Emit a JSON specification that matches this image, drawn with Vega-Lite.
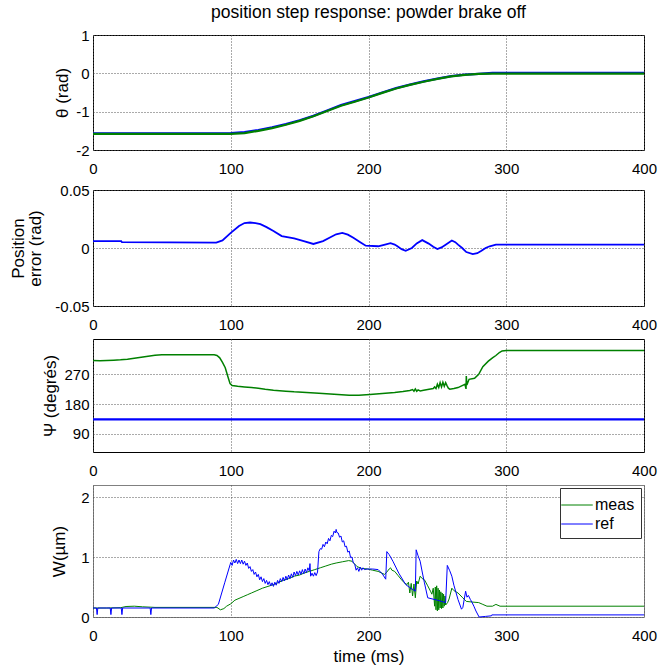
{
  "$schema": "https://vega.github.io/schema/vega-lite/v6.json",
  "background": "white",
  "padding": {"left": 9, "top": 3, "right": 5, "bottom": 0},
  "resolve": {"scale": {"color": "independent"}, "legend": {"color": "independent"}},
  "config": {
    "font": "Liberation Sans",
    "view": {"stroke": "black", "strokeWidth": 1},
    "axis": {"labelFont": "Liberation Sans", "labelFontSize": 15, "labelColor": "black", "titleFont": "Liberation Sans", "titleFontSize": 17, "titleFontWeight": "normal", "titleColor": "black", "titleLineHeight": 17, "domain": false, "ticks": false, "grid": true, "gridColor": "#555555", "gridDash": [1, 2], "gridWidth": 1, "labelOverlap": false, "labelFlush": false, "labelPadding": 4},
    "axisX": {"labelPadding": 11},
    "concat": {"spacing": 5}
  },
  "datasets": {
    "theta": [{"t":0,"v":-1.565,"s":"ref"},{"t":90,"v":-1.565,"s":"ref"},{"t":100,"v":-1.56,"s":"ref"},{"t":110,"v":-1.535,"s":"ref"},{"t":120,"v":-1.48,"s":"ref"},{"t":130,"v":-1.41,"s":"ref"},{"t":140,"v":-1.325,"s":"ref"},{"t":150,"v":-1.225,"s":"ref"},{"t":160,"v":-1.11,"s":"ref"},{"t":170,"v":-0.97,"s":"ref"},{"t":180,"v":-0.83,"s":"ref"},{"t":190,"v":-0.725,"s":"ref"},{"t":200,"v":-0.62,"s":"ref"},{"t":210,"v":-0.5,"s":"ref"},{"t":220,"v":-0.385,"s":"ref"},{"t":230,"v":-0.295,"s":"ref"},{"t":240,"v":-0.21,"s":"ref"},{"t":250,"v":-0.14,"s":"ref"},{"t":260,"v":-0.075,"s":"ref"},{"t":270,"v":-0.035,"s":"ref"},{"t":280,"v":-0.012,"s":"ref"},{"t":290,"v":0.01,"s":"ref"},{"t":300,"v":0.015,"s":"ref"},{"t":400,"v":0.015,"s":"ref"},
      {"t":0,"v":-1.58,"s":"meas"},{"t":100,"v":-1.58,"s":"meas"},{"t":110,"v":-1.56,"s":"meas"},{"t":120,"v":-1.5,"s":"meas"},{"t":130,"v":-1.43,"s":"meas"},{"t":140,"v":-1.34,"s":"meas"},{"t":150,"v":-1.24,"s":"meas"},{"t":160,"v":-1.12,"s":"meas"},{"t":170,"v":-0.98,"s":"meas"},{"t":180,"v":-0.845,"s":"meas"},{"t":190,"v":-0.74,"s":"meas"},{"t":200,"v":-0.632,"s":"meas"},{"t":210,"v":-0.51,"s":"meas"},{"t":220,"v":-0.395,"s":"meas"},{"t":230,"v":-0.302,"s":"meas"},{"t":240,"v":-0.22,"s":"meas"},{"t":250,"v":-0.145,"s":"meas"},{"t":260,"v":-0.08,"s":"meas"},{"t":270,"v":-0.04,"s":"meas"},{"t":280,"v":-0.015,"s":"meas"},{"t":290,"v":-0.01,"s":"meas"},{"t":400,"v":-0.01,"s":"meas"}],
    "err": [{"t":0,"v":0.0059},{"t":20.5,"v":0.0059},{"t":21,"v":0.005},{"t":89.5,"v":0.0047},{"t":94,"v":0.0065},{"t":100,"v":0.013},{"t":106,"v":0.019},{"t":110,"v":0.0215},{"t":114,"v":0.022},{"t":118,"v":0.0215},{"t":121.5,"v":0.0205},{"t":126,"v":0.018},{"t":131,"v":0.0147},{"t":137,"v":0.0103},{"t":146,"v":0.0082},{"t":153,"v":0.006},{"t":160,"v":0.0035},{"t":167,"v":0.0059},{"t":172,"v":0.009},{"t":176.5,"v":0.0118},{"t":181,"v":0.013},{"t":185,"v":0.0115},{"t":189,"v":0.0088},{"t":194,"v":0.005},{"t":198,"v":0.002},{"t":207,"v":0.0015},{"t":212,"v":0.003},{"t":216,"v":0.0041},{"t":219,"v":0.003},{"t":221,"v":0.0015},{"t":224,"v":-0.001},{"t":227,"v":-0.0024},{"t":231.5,"v":0},{"t":235,"v":0.004},{"t":239,"v":0.0068},{"t":243.7,"v":0.0038},{"t":247,"v":0.001},{"t":250,"v":-0.0009},{"t":253,"v":0.0005},{"t":256,"v":0.0029},{"t":260.5,"v":0.0065},{"t":263,"v":0.005},{"t":265,"v":0.0029},{"t":268,"v":0},{"t":271,"v":-0.0035},{"t":275.7,"v":-0.0053},{"t":279,"v":-0.0045},{"t":282,"v":-0.0024},{"t":285,"v":0},{"t":288,"v":0.0015},{"t":292.5,"v":0.0029},{"t":400,"v":0.0029}],
    "psiMeas": [{"t":0,"v":312},{"t":5,"v":311},{"t":10,"v":312},{"t":15,"v":313},{"t":20,"v":314},{"t":25,"v":316},{"t":30,"v":319},{"t":35,"v":322},{"t":40,"v":325},{"t":45,"v":328},{"t":50,"v":329},{"t":70,"v":329},{"t":88,"v":329},{"t":90,"v":327},{"t":92,"v":320},{"t":94,"v":306},{"t":96,"v":290},{"t":98,"v":262},{"t":99.5,"v":242},{"t":101,"v":236},{"t":105,"v":234},{"t":110,"v":232},{"t":115,"v":230},{"t":120,"v":228},{"t":125,"v":225},{"t":131,"v":222},{"t":140,"v":219},{"t":146,"v":217},{"t":155,"v":215},{"t":164,"v":213},{"t":175,"v":210},{"t":186,"v":207},{"t":193,"v":207},{"t":201,"v":209},{"t":210,"v":212},{"t":219,"v":215},{"t":225,"v":218},{"t":230,"v":221},{"t":232,"v":224},{"t":233,"v":219},{"t":234,"v":226},{"t":235,"v":219},{"t":236,"v":223},{"t":237.5,"v":220},{"t":240,"v":222},{"t":244,"v":225},{"t":247,"v":227},{"t":248,"v":232},{"t":249,"v":227},{"t":250,"v":240},{"t":251,"v":230},{"t":252,"v":245},{"t":253,"v":232},{"t":254,"v":246},{"t":255,"v":234},{"t":256,"v":245},{"t":257,"v":236},{"t":258,"v":228},{"t":259,"v":225},{"t":262,"v":227},{"t":265,"v":230},{"t":268,"v":236},{"t":270,"v":240},{"t":270.8,"v":226},{"t":271,"v":265},{"t":271.4,"v":238},{"t":273,"v":255},{"t":277,"v":258},{"t":280,"v":270},{"t":283,"v":293},{"t":287,"v":310},{"t":290,"v":320},{"t":292.5,"v":327},{"t":295,"v":336},{"t":297,"v":341},{"t":300,"v":342},{"t":400,"v":342}],
    "psiRef": [{"t":0,"v":134},{"t":400,"v":134}],
    "w": [
      {"t":0,"v":0.15,"s":"meas"},{"t":10,"v":0.15,"s":"meas"},{"t":20,"v":0.155,"s":"meas"},{"t":24,"v":0.175,"s":"meas"},{"t":30,"v":0.18,"s":"meas"},{"t":36,"v":0.17,"s":"meas"},{"t":45,"v":0.16,"s":"meas"},{"t":90,"v":0.16,"s":"meas"},{"t":92.5,"v":0.12,"s":"meas"},{"t":95,"v":0.14,"s":"meas"},{"t":97,"v":0.18,"s":"meas"},{"t":100,"v":0.22,"s":"meas"},{"t":103,"v":0.28,"s":"meas"},{"t":106,"v":0.31,"s":"meas"},{"t":109,"v":0.34,"s":"meas"},{"t":112,"v":0.37,"s":"meas"},{"t":115,"v":0.4,"s":"meas"},{"t":119,"v":0.44,"s":"meas"},{"t":123,"v":0.48,"s":"meas"},{"t":127,"v":0.51,"s":"meas"},{"t":131,"v":0.54,"s":"meas"},{"t":134,"v":0.57,"s":"meas"},{"t":138,"v":0.61,"s":"meas"},{"t":142,"v":0.64,"s":"meas"},{"t":146,"v":0.68,"s":"meas"},{"t":150,"v":0.7,"s":"meas"},{"t":153,"v":0.73,"s":"meas"},{"t":157,"v":0.76,"s":"meas"},{"t":161,"v":0.79,"s":"meas"},{"t":165,"v":0.82,"s":"meas"},{"t":169,"v":0.85,"s":"meas"},{"t":173,"v":0.88,"s":"meas"},{"t":176.5,"v":0.9,"s":"meas"},{"t":181,"v":0.92,"s":"meas"},{"t":185.6,"v":0.94,"s":"meas"},{"t":188,"v":0.93,"s":"meas"},{"t":191.7,"v":0.84,"s":"meas"},{"t":195,"v":0.81,"s":"meas"},{"t":199.4,"v":0.8,"s":"meas"},{"t":203,"v":0.78,"s":"meas"},{"t":207,"v":0.76,"s":"meas"},{"t":211.6,"v":0.71,"s":"meas"},{"t":213,"v":0.74,"s":"meas"},{"t":215,"v":0.8,"s":"meas"},{"t":216,"v":0.82,"s":"meas"},{"t":217,"v":0.78,"s":"meas"},{"t":219,"v":0.76,"s":"meas"},{"t":221.5,"v":0.69,"s":"meas"},{"t":224,"v":0.62,"s":"meas"},{"t":226,"v":0.57,"s":"meas"},{"t":228,"v":0.54,"s":"meas"},{"t":229,"v":0.58,"s":"meas"},{"t":230,"v":0.4,"s":"meas"},{"t":231,"v":0.56,"s":"meas"},{"t":232,"v":0.35,"s":"meas"},{"t":233,"v":0.55,"s":"meas"},{"t":234,"v":0.32,"s":"meas"},{"t":235,"v":0.6,"s":"meas"},{"t":236,"v":0.55,"s":"meas"},{"t":237.5,"v":0.68,"s":"meas"},{"t":239,"v":0.64,"s":"meas"},{"t":240.6,"v":0.62,"s":"meas"},{"t":243,"v":0.52,"s":"meas"},{"t":245,"v":0.43,"s":"meas"},{"t":246,"v":0.38,"s":"meas"},{"t":247,"v":0.48,"s":"meas"},{"t":248,"v":0.18,"s":"meas"},{"t":248.5,"v":0.5,"s":"meas"},{"t":249,"v":0.12,"s":"meas"},{"t":249.5,"v":0.52,"s":"meas"},{"t":250,"v":0.1,"s":"meas"},{"t":250.5,"v":0.48,"s":"meas"},{"t":251,"v":0.12,"s":"meas"},{"t":251.5,"v":0.45,"s":"meas"},{"t":252,"v":0.15,"s":"meas"},{"t":252.5,"v":0.42,"s":"meas"},{"t":253,"v":0.14,"s":"meas"},{"t":253.5,"v":0.4,"s":"meas"},{"t":254,"v":0.15,"s":"meas"},{"t":254.5,"v":0.38,"s":"meas"},{"t":255,"v":0.18,"s":"meas"},{"t":255.5,"v":0.35,"s":"meas"},{"t":256,"v":0.2,"s":"meas"},{"t":257.4,"v":0.24,"s":"meas"},{"t":258.5,"v":0.3,"s":"meas"},{"t":260.5,"v":0.48,"s":"meas"},{"t":262,"v":0.44,"s":"meas"},{"t":265,"v":0.4,"s":"meas"},{"t":268,"v":0.33,"s":"meas"},{"t":271,"v":0.26,"s":"meas"},{"t":275,"v":0.25,"s":"meas"},{"t":280,"v":0.24,"s":"meas"},{"t":283,"v":0.21,"s":"meas"},{"t":286,"v":0.18,"s":"meas"},{"t":290,"v":0.18,"s":"meas"},{"t":292.5,"v":0.21,"s":"meas"},{"t":295.5,"v":0.18,"s":"meas"},{"t":400,"v":0.18,"s":"meas"},
      {"t":0,"v":0.15,"s":"ref"},{"t":2.5,"v":0.15,"s":"ref"},{"t":3,"v":0.04,"s":"ref"},{"t":3.5,"v":0.15,"s":"ref"},{"t":12.5,"v":0.15,"s":"ref"},{"t":13,"v":0.04,"s":"ref"},{"t":13.5,"v":0.15,"s":"ref"},{"t":20.5,"v":0.15,"s":"ref"},{"t":21,"v":0.04,"s":"ref"},{"t":21.5,"v":0.15,"s":"ref"},{"t":41.5,"v":0.15,"s":"ref"},{"t":42,"v":0.04,"s":"ref"},{"t":42.5,"v":0.15,"s":"ref"},{"t":88,"v":0.15,"s":"ref"},{"t":91,"v":0.21,"s":"ref"},{"t":95.6,"v":0.57,"s":"ref"},{"t":99.5,"v":0.87,"s":"ref"},
      {"t":100,"v":0.91,"s":"ref"},{"t":101,"v":0.86,"s":"ref"},{"t":102,"v":0.95,"s":"ref"},{"t":103,"v":0.9,"s":"ref"},{"t":104,"v":0.96,"s":"ref"},{"t":105,"v":0.89,"s":"ref"},{"t":106,"v":0.95,"s":"ref"},{"t":107,"v":0.89,"s":"ref"},{"t":108,"v":0.95,"s":"ref"},{"t":109,"v":0.88,"s":"ref"},{"t":110,"v":0.93,"s":"ref"},{"t":111,"v":0.86,"s":"ref"},{"t":112,"v":0.9,"s":"ref"},{"t":113,"v":0.81,"s":"ref"},{"t":114,"v":0.84,"s":"ref"},{"t":115,"v":0.76,"s":"ref"},{"t":116,"v":0.79,"s":"ref"},{"t":117,"v":0.71,"s":"ref"},{"t":118,"v":0.75,"s":"ref"},{"t":119,"v":0.67,"s":"ref"},{"t":120,"v":0.71,"s":"ref"},{"t":121,"v":0.62,"s":"ref"},{"t":122,"v":0.67,"s":"ref"},{"t":123,"v":0.59,"s":"ref"},{"t":124,"v":0.64,"s":"ref"},{"t":125,"v":0.56,"s":"ref"},{"t":126,"v":0.61,"s":"ref"},{"t":127,"v":0.54,"s":"ref"},{"t":128,"v":0.59,"s":"ref"},{"t":129,"v":0.52,"s":"ref"},{"t":130,"v":0.57,"s":"ref"},{"t":131,"v":0.51,"s":"ref"},{"t":132,"v":0.58,"s":"ref"},{"t":133,"v":0.53,"s":"ref"},{"t":134,"v":0.61,"s":"ref"},{"t":135,"v":0.56,"s":"ref"},{"t":136,"v":0.64,"s":"ref"},{"t":137,"v":0.59,"s":"ref"},{"t":138,"v":0.66,"s":"ref"},{"t":139,"v":0.6,"s":"ref"},{"t":140,"v":0.68,"s":"ref"},{"t":141,"v":0.62,"s":"ref"},{"t":142,"v":0.7,"s":"ref"},{"t":143,"v":0.64,"s":"ref"},{"t":144,"v":0.72,"s":"ref"},{"t":145,"v":0.66,"s":"ref"},{"t":146,"v":0.75,"s":"ref"},{"t":147,"v":0.69,"s":"ref"},{"t":148,"v":0.76,"s":"ref"},{"t":149,"v":0.7,"s":"ref"},{"t":150,"v":0.77,"s":"ref"},{"t":151,"v":0.71,"s":"ref"},{"t":152,"v":0.79,"s":"ref"},{"t":153,"v":0.72,"s":"ref"},{"t":154,"v":0.8,"s":"ref"},{"t":155,"v":0.74,"s":"ref"},{"t":156,"v":0.82,"s":"ref"},{"t":157,"v":0.77,"s":"ref"},{"t":157.5,"v":0.89,"s":"ref"},{"t":158,"v":0.68,"s":"ref"},{"t":159,"v":0.73,"s":"ref"},{"t":160,"v":0.68,"s":"ref"},{"t":161,"v":0.74,"s":"ref"},{"t":162,"v":0.69,"s":"ref"},{"t":163,"v":0.75,"s":"ref"},{"t":164,"v":1.09,"s":"ref"},{"t":165,"v":1.14,"s":"ref"},{"t":166,"v":1.13,"s":"ref"},{"t":167,"v":1.21,"s":"ref"},{"t":168,"v":1.17,"s":"ref"},{"t":169,"v":1.25,"s":"ref"},{"t":170,"v":1.22,"s":"ref"},{"t":171,"v":1.31,"s":"ref"},{"t":172,"v":1.27,"s":"ref"},{"t":173,"v":1.36,"s":"ref"},{"t":174,"v":1.34,"s":"ref"},{"t":175,"v":1.43,"s":"ref"},{"t":176,"v":1.4,"s":"ref"},{"t":176.5,"v":1.46,"s":"ref"},{"t":177,"v":1.41,"s":"ref"},{"t":178,"v":1.4,"s":"ref"},{"t":179,"v":1.33,"s":"ref"},{"t":180,"v":1.35,"s":"ref"},{"t":181,"v":1.25,"s":"ref"},{"t":182,"v":1.27,"s":"ref"},{"t":183,"v":1.17,"s":"ref"},{"t":184,"v":1.18,"s":"ref"},{"t":185,"v":1.08,"s":"ref"},{"t":186,"v":1.1,"s":"ref"},{"t":187,"v":0.99,"s":"ref"},{"t":188,"v":1.0,"s":"ref"},{"t":189,"v":0.9,"s":"ref"},{"t":190,"v":0.88,"s":"ref"},{"t":191,"v":0.78,"s":"ref"},{"t":192,"v":0.82,"s":"ref"},{"t":193,"v":0.76,"s":"ref"},{"t":194,"v":0.83,"s":"ref"},{"t":195,"v":0.78,"s":"ref"},{"t":196,"v":0.82,"s":"ref"},{"t":197,"v":0.79,"s":"ref"},{"t":199,"v":0.8,"s":"ref"},
      {"t":203,"v":0.8,"s":"ref"},{"t":207,"v":0.79,"s":"ref"},{"t":210,"v":0.72,"s":"ref"},{"t":212.5,"v":0.63,"s":"ref"},{"t":213.3,"v":1.09,"s":"ref"},{"t":215,"v":1.04,"s":"ref"},{"t":217.7,"v":0.93,"s":"ref"},{"t":222,"v":0.73,"s":"ref"},{"t":227,"v":0.54,"s":"ref"},{"t":230,"v":0.49,"s":"ref"},{"t":234,"v":0.43,"s":"ref"},{"t":234.6,"v":1.12,"s":"ref"},{"t":236,"v":1.02,"s":"ref"},{"t":237.5,"v":0.93,"s":"ref"},{"t":239,"v":0.75,"s":"ref"},{"t":240.6,"v":0.57,"s":"ref"},{"t":243,"v":0.32,"s":"ref"},{"t":250,"v":0.28,"s":"ref"},{"t":256,"v":0.24,"s":"ref"},{"t":257.2,"v":0.86,"s":"ref"},{"t":259,"v":0.77,"s":"ref"},{"t":260.5,"v":0.68,"s":"ref"},{"t":262,"v":0.53,"s":"ref"},{"t":265,"v":0.29,"s":"ref"},{"t":267.5,"v":0.13,"s":"ref"},{"t":268.5,"v":0.16,"s":"ref"},{"t":270.5,"v":0.43,"s":"ref"},{"t":271.5,"v":0.33,"s":"ref"},{"t":272.5,"v":0.36,"s":"ref"},{"t":274,"v":0.29,"s":"ref"},{"t":275,"v":0.25,"s":"ref"},{"t":276.5,"v":0.18,"s":"ref"},{"t":278,"v":0.1,"s":"ref"},{"t":280.3,"v":0.0,"s":"ref"},{"t":285,"v":0.01,"s":"ref"},{"t":289.3,"v":0.02,"s":"ref"},{"t":289.5,"v":0.035,"s":"ref"},{"t":400,"v":0.035,"s":"ref"}
    ]
  },
  "vconcat": [
    {
      "width": 551, "height": 115,
      "title": {"text": "position step response: powder brake off", "fontSize": 17.5, "fontWeight": "normal", "font": "Liberation Sans", "color": "black", "anchor": "middle", "offset": 7},
      "data": {"name": "theta"},
      "mark": {"type": "line", "strokeWidth": 2.2},
      "encoding": {
        "x": {"field": "t", "type": "quantitative", "scale": {"domain": [0, 400], "nice": false}, "axis": {"values": [0, 100, 200, 300, 400], "title": null}},
        "y": {"field": "v", "type": "quantitative", "scale": {"domain": [-2, 1], "nice": false, "zero": false}, "axis": {"values": [-2, -1, 0, 1], "title": "θ (rad)", "labelExpr": "'' + datum.value"}},
        "color": {"field": "s", "type": "nominal", "sort": ["ref", "meas"], "scale": {"domain": ["ref", "meas"], "range": ["#0000ff", "#008000"]}, "legend": null}
      }
    },
    {
      "width": 551, "height": 116,
      "data": {"name": "err"},
      "mark": {"type": "line", "color": "#0000ff", "strokeWidth": 1.8},
      "encoding": {
        "x": {"field": "t", "type": "quantitative", "scale": {"domain": [0, 400], "nice": false}, "axis": {"values": [0, 100, 200, 300, 400], "title": null}},
        "y": {"field": "v", "type": "quantitative", "scale": {"domain": [-0.05, 0.05], "nice": false, "zero": false}, "axis": {"values": [-0.05, 0, 0.05], "title": ["Position", "error (rad)"], "titlePadding": 10, "labelExpr": "'' + datum.value"}}
      }
    },
    {
      "width": 551, "height": 113,
      "encoding": {
        "x": {"field": "t", "type": "quantitative", "scale": {"domain": [0, 400], "nice": false}, "axis": {"values": [0, 100, 200, 300, 400], "title": null}},
        "y": {"field": "v", "type": "quantitative", "scale": {"domain": [35, 377], "nice": false, "zero": false}, "axis": {"values": [90, 180, 270], "title": "Ψ (degrés)"}}
      },
      "layer": [
        {"data": {"name": "psiMeas"}, "mark": {"type": "line", "color": "#008000", "strokeWidth": 1.5}},
        {"data": {"name": "psiRef"}, "mark": {"type": "line", "color": "#0000ff", "strokeWidth": 2.2}}
      ]
    },
    {
      "width": 551, "height": 132,
      "view": {"stroke": "#808080"},
      "data": {"name": "w"},
      "mark": {"type": "line", "strokeWidth": 1},
      "encoding": {
        "x": {"field": "t", "type": "quantitative", "scale": {"domain": [0, 400], "nice": false}, "axis": {"values": [0, 100, 200, 300, 400], "title": "time (ms)", "titlePadding": 5}},
        "y": {"field": "v", "type": "quantitative", "scale": {"domain": [0, 2.2], "nice": false}, "axis": {"values": [0, 1, 2], "title": "W(µm)", "titlePadding": 12}},
        "color": {"field": "s", "type": "nominal", "scale": {"domain": ["meas", "ref"], "range": ["#008000", "#0000ff"]},
          "legend": {"orient": "top-right", "offset": 3, "title": null, "symbolType": "M-1.5,0L1.5,0", "symbolSize": 441, "symbolStrokeWidth": 1, "labelOffset": 7, "labelFontSize": 16, "labelFont": "Liberation Sans", "labelColor": "black", "strokeColor": "#333333", "fillColor": "white", "padding": 6, "rowPadding": 0}}
      }
    }
  ]
}
